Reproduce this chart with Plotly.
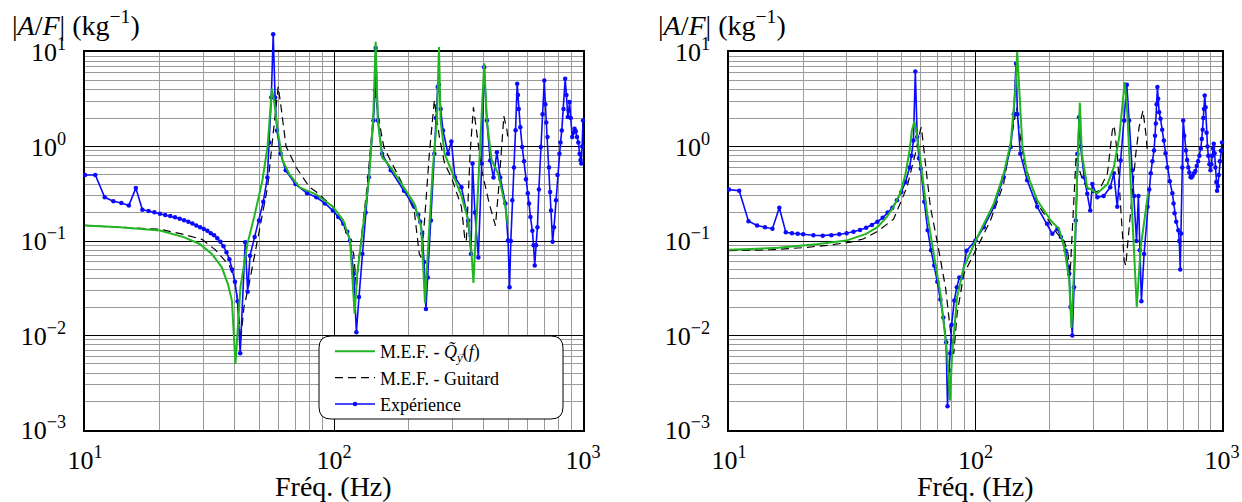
import plotly.graph_objects as go

# ---------------- data ----------------
# Left panel
LG_f = [10, 13.8, 20, 24.9, 28.9, 32.3, 35.4, 37.5, 38.9, 40.2, 42.1, 44.9, 47.8, 51.6, 54.1, 56.3, 57.5,
        59.4, 62.2, 66.2, 72.7, 85, 99, 109, 116, 120, 121, 124, 131.6, 138, 143.6, 147, 150, 156, 169, 191,
        210, 224, 229, 232, 238, 249, 259, 264, 268, 278, 296, 325, 346, 357, 363, 368, 386, 401, 411, 430,
        457, 488, 499]
LG_v = [0.146, 0.140, 0.129, 0.110, 0.093, 0.073, 0.053, 0.035, 0.0234, 0.005, 0.0325, 0.093, 0.18, 0.44,
        1.0, 4.1, 3.0, 1.48, 0.71, 0.51, 0.37, 0.31, 0.23, 0.165, 0.101, 0.0216, 0.017, 0.045, 0.165, 0.44,
        1.89, 12.8, 1.89, 0.77, 0.6, 0.37, 0.25, 0.14, 0.048, 0.022, 0.073, 0.56, 1.89, 11.3, 1.89, 0.84,
        0.56, 0.3, 0.165, 0.073, 0.036, 0.073, 0.84, 7.6, 1.89, 0.71, 0.51, 0.23, 0.15]

LB_f = [10, 20, 24.4, 29.5, 33.3, 38, 40.2, 41.2, 42.2, 43.5, 45.6, 50, 54.1, 56.6, 59.7, 61.3, 64.2, 70.5,
        79.8, 85, 99, 109, 120, 123, 125.6, 135.8, 142, 146.7, 150, 158.6, 185, 210, 220, 224, 231, 241.5,
        253, 265, 278, 296, 325, 336, 340, 352, 363, 374, 392, 420, 445, 460, 481, 495, 500]
LB_v = [0.146, 0.133, 0.119, 0.104, 0.081, 0.055, 0.037, 0.02, 0.0089, 0.02, 0.035, 0.119, 0.37, 1.16, 4.3,
        2.6, 1.0, 0.6, 0.37, 0.33, 0.23, 0.15, 0.073, 0.032, 0.062, 0.37, 1.6, 3.9, 2.2, 0.98, 0.44, 0.21,
        0.073, 0.067, 0.165, 0.84, 3.1, 1.26, 0.66, 0.474, 0.23, 0.1, 0.1, 0.84, 2.6, 1.37, 0.56, 0.25,
        0.145, 0.4, 2.1, 1.48, 1.2]

LE_f = [10, 11, 12, 13, 14, 15, 16, 17, 18, 19, 20, 21, 22, 23, 24, 25, 26, 27, 28, 29, 30, 31, 32, 33, 34,
        35, 36, 37, 38, 39, 40, 41, 42, 44, 45, 46, 48, 50, 52, 54, 55, 56, 57, 58, 59, 61, 64, 70, 78, 85,
        92, 99, 104, 109, 113, 116, 120, 123, 126, 130, 134, 138, 144, 146, 147, 150, 156, 169, 191, 210,
        218, 222, 226, 230, 234, 238, 245, 253, 257, 261, 264, 268, 274, 287, 296, 306, 325, 346, 355, 360,
        368, 380, 392, 401, 411, 424, 437, 451, 465, 488, 500, 507, 513, 520, 528, 536, 544, 548, 552, 560,
        570, 580, 590, 600, 607, 615, 626, 633, 640, 648, 656, 665, 677, 688, 699, 706, 712, 720, 730, 738,
        744, 755, 765, 779, 790, 804, 812, 822, 835, 848, 858, 869, 876, 883, 893, 905, 915, 925, 935, 946,
        958, 969, 977, 984, 992, 1000]
LE_v = [0.50, 0.50, 0.29, 0.264, 0.252, 0.238, 0.363, 0.214, 0.208, 0.201, 0.194, 0.189, 0.184, 0.178,
        0.172, 0.166, 0.160, 0.153, 0.146, 0.140, 0.134, 0.128, 0.121, 0.115, 0.107, 0.098, 0.088, 0.076,
        0.064, 0.050, 0.037, 0.023, 0.0065, 0.097, 0.029, 0.07, 0.11, 0.165, 0.26, 0.47, 1.1, 3.3, 15.4, 3.3,
        1.48, 0.84, 0.56, 0.40, 0.32, 0.29, 0.25, 0.21, 0.18, 0.152, 0.125, 0.101, 0.045, 0.0108, 0.0255,
        0.073, 0.2, 0.474, 1.89, 3.93, 11.0, 1.89, 0.84, 0.56, 0.34, 0.23, 0.19, 0.16, 0.12, 0.06, 0.0191,
        0.041, 0.165, 0.84, 2.0, 4.26, 4.5, 2.5, 1.48, 0.84, 1.13, 0.474, 0.37, 0.165, 0.073, 0.66, 0.2,
        0.067, 0.66, 6.9, 1.89, 0.71, 0.47, 0.87, 0.47, 0.25, 0.101, 0.0325, 0.1, 0.27, 0.6, 1.49, 4.6, 3.5,
        2.5, 1.6, 0.99, 0.7, 0.45, 0.32, 0.25, 0.18, 0.128, 0.09, 0.055, 0.09, 0.14, 0.35, 0.99, 2.2, 5.0,
        2.8, 1.8, 1.26, 0.6, 0.33, 0.21, 0.098, 0.14, 0.27, 0.5, 0.84, 1.1, 1.48, 2.5, 5.2, 3.5, 2.05, 2.4,
        2.96, 2.0, 1.26, 1.4, 1.54, 1.45, 1.26, 1.1, 0.84, 0.72, 0.66, 1.0, 1.89]

# Right panel
RG_f = [10, 15.9, 23.1, 29.9, 36, 40, 43.7, 46.5, 49.5, 51.9, 54, 55.2, 56.5, 58, 59.8, 63.7, 67.7, 72.1,
        76.7, 78.7, 80.4, 84.2, 89.7, 100, 118.8, 130, 138.8, 145.5, 147.6, 150, 155, 162, 178, 202, 218,
        229, 240, 245, 251, 259, 265, 270, 284, 312, 343, 364, 383, 395, 403, 411, 420, 433, 451, 468, 491,
        501]
RG_v = [0.0807, 0.0847, 0.093, 0.101, 0.119, 0.14, 0.18, 0.23, 0.32, 0.5, 0.9, 1.48, 1.85, 1.26, 0.71,
        0.194, 0.073, 0.0276, 0.0064, 0.00205, 0.0064, 0.0255, 0.053, 0.1, 0.25, 0.51, 1.07, 4.3, 10.0, 4.3,
        1.0, 0.51, 0.27, 0.165, 0.135, 0.087, 0.038, 0.012, 0.049, 0.56, 2.9, 0.84, 0.37, 0.32, 0.4, 0.6,
        1.26, 2.85, 4.8, 2.85, 0.84, 0.165, 0.02, 0.086, 0.23, 0.316]

RB_f = [10, 15, 20, 25, 31, 35, 39.8, 46.5, 52.7, 57, 59.7, 60.3, 62, 65.6, 69.8, 75.6, 79.1, 81.6, 84.2,
        89.7, 100, 115, 130, 141, 146.8, 150, 157, 178, 215, 229, 237, 242, 250, 256, 262, 272, 293, 317,
        343, 359, 365, 376, 388, 401, 407, 427, 447, 461, 478, 491, 499]
RB_v = [0.079, 0.081, 0.085, 0.09, 0.097, 0.105, 0.125, 0.17, 0.37, 0.84, 1.48, 1.6, 0.84, 0.23, 0.101,
        0.032, 0.0113, 0.0064, 0.017, 0.045, 0.079, 0.165, 0.4, 1.48, 2.6, 1.6, 0.71, 0.25, 0.119, 0.1,
        0.075, 0.045, 0.2, 0.8, 0.6, 0.44, 0.32, 0.34, 0.52, 1.48, 1.67, 0.84, 0.23, 0.062, 0.055, 0.23,
        0.84, 1.6, 2.4, 1.37, 0.84]

RE_f = [10, 11, 12, 13, 14, 15, 16, 17, 18, 19, 20, 22, 24, 26, 28, 30, 32, 34, 36, 38, 40, 42, 44, 46, 48,
        50, 52, 54, 55, 56, 57, 58, 59, 60, 62, 64, 66, 68, 70, 72, 74, 76, 77, 78, 79, 80, 82, 84, 86, 88,
        92, 100, 108, 119, 130, 139, 143, 146, 148, 152, 162, 178, 195, 205, 215, 222, 232, 240, 243, 247,
        251, 255, 259, 263, 267, 276, 284, 292, 298, 312, 331, 352, 364, 376, 388, 401, 411, 420, 433, 440,
        450, 458, 464, 471, 483, 499, 507, 514, 522, 530, 535, 539, 543, 547, 551, 556, 563, 572, 581, 590,
        600, 614, 629, 636, 642, 652, 665, 671, 677, 683, 690, 696, 703, 714, 722, 730, 737, 745, 752, 760,
        770, 780, 790, 800, 810, 820, 828, 835, 840, 845, 851, 858, 866, 873, 880, 889, 898, 905, 912, 920,
        926, 933, 940, 948, 955, 962, 970, 980, 990, 1000]
RE_v = [0.35, 0.34, 0.162, 0.146, 0.140, 0.135, 0.225, 0.124, 0.121, 0.119, 0.118, 0.115, 0.114, 0.115,
        0.118, 0.121, 0.125, 0.131, 0.138, 0.148, 0.16, 0.176, 0.2, 0.225, 0.27, 0.33, 0.42, 0.6, 0.8, 1.16,
        6.2, 1.26, 0.75, 0.58, 0.26, 0.13, 0.08, 0.055, 0.037, 0.024, 0.0155, 0.0085, 0.00178, 0.0043,
        0.0065, 0.013, 0.0234, 0.0325, 0.041, 0.041, 0.079, 0.101, 0.14, 0.23, 0.474, 0.986, 2.2, 7.5, 2.2,
        0.84, 0.44, 0.23, 0.152, 0.119, 0.135, 0.11, 0.079, 0.045, 0.02, 0.01, 0.0325, 0.165, 0.84, 2.04,
        1.0, 0.474, 0.316, 0.21, 0.4, 0.29, 0.3, 0.37, 0.52, 0.23, 0.71, 1.89, 4.5, 1.89, 0.56, 0.3, 0.1,
        0.3, 0.08, 0.023, 0.073, 0.23, 0.35, 0.52, 0.7, 0.91, 1.3, 1.75, 2.8, 4.26, 3.2, 2.3, 1.97, 1.5,
        1.16, 0.85, 0.6, 0.43, 0.32, 0.25, 0.197, 0.16, 0.13, 0.1, 0.05, 0.12, 0.6, 1.89, 1.3, 0.91, 0.72,
        0.6, 0.53, 0.476, 0.47, 0.49, 0.52, 0.55, 0.62, 0.7, 0.8, 0.95, 1.2, 1.5, 2.0, 2.5, 3.47, 2.6, 1.4,
        1.0, 0.8, 0.65, 0.56, 0.65, 0.8, 0.95, 1.07, 0.85, 0.6, 0.42, 0.34, 0.38, 0.5, 0.7, 0.9, 1.1]

X_TICKS = [10, 100, 1000]
X_TICKTEXT = ["10<sup>1</sup>", "10<sup>2</sup>", "10<sup>3</sup>"]
Y_TICKS = [1e-3, 1e-2, 1e-1, 1, 10]
Y_TICKTEXT = ["10<sup>−3</sup>", "10<sup>−2</sup>", "10<sup>−1</sup>", "10<sup>0</sup>", "10<sup>1</sup>"]
MINOR = [m * 10 ** k for k in range(-3, 3) for m in range(2, 10)]

LEGEND_NAMES = ["M.E.F. - <i>Q\u0303</i><sub><i>y</i></sub>(<i>f</i>)", "M.E.F. - Guitard", "Expérience"]
SUB_ARROW = "\u2192"
XTITLE = "Fréq. (Hz)"
YTITLE = "|<i>A</i>/<i>F</i>|\u00a0(kg<sup>−1</sup>)"

# ---------------- layout geometry ----------------
W, H = 1242, 502
FONT = "Liberation Serif"
GREEN, BLUE, BLACK = "#22b522", "#0a0aff", "#000000"


def fx(p):
    return p / W


def fy(p):
    return 1 - p / H


TOP, BOT = 52, 430
DEC = (BOT - TOP) / 4.0
EXT = 0.35
PANELS = [(85, 583), (729, 1222)]

fig = go.Figure()

for i, (x0, x1) in enumerate(PANELS):
    gx = "xaxis" if i == 0 else "xaxis2"
    gy = "yaxis" if i == 0 else "yaxis2"
    dx = "xaxis3" if i == 0 else "xaxis4"
    dy = "yaxis3" if i == 0 else "yaxis4"
    gx_ref = "x" if i == 0 else "x2"
    grid_common = dict(type="log", showline=True, mirror=True, linecolor="black", linewidth=1.6,
                       showgrid=True, gridcolor="black", gridwidth=1, ticks="", zeroline=False,
                       automargin=False, tickfont=dict(family=FONT, size=26, color="black"))
    fig.update_layout(**{
        gx: dict(grid_common, domain=[fx(x0), fx(x1)], range=[1, 3], tickmode="array",
                 tickvals=X_TICKS, ticktext=X_TICKTEXT, anchor="y" if i == 0 else "y2",
                 ticklabelstandoff=6,
                 minor=dict(tickmode="array", tickvals=MINOR, showgrid=True, gridcolor="#9a9a9a",
                            gridwidth=1, ticks="")),
        gy: dict(grid_common, domain=[fy(BOT), fy(TOP)], range=[-3, 1], tickmode="array",
                 tickvals=Y_TICKS, ticktext=Y_TICKTEXT, anchor=gx_ref, ticklabelstandoff=12,
                 minor=dict(tickmode="array", tickvals=MINOR, showgrid=True, gridcolor="#9a9a9a",
                            gridwidth=1, ticks="")),
        dx: dict(type="log", domain=[fx(x0), fx(x1)], range=[1, 3], visible=False, automargin=False,
                 anchor="y3" if i == 0 else "y4"),
        dy: dict(type="log", domain=[fy(BOT), fy(TOP - EXT * DEC)], range=[-3, 1 + EXT], visible=False,
                 automargin=False, anchor="x3" if i == 0 else "x4"),
    })
    # empty trace so the grid/frame subplot is drawn
    fig.add_trace(go.Scatter(x=[], y=[], xaxis=gx_ref, yaxis="y" if i == 0 else "y2",
                             showlegend=False, hoverinfo="skip"))

panel_data = [
    (LG_f, LG_v, LB_f, LB_v, LE_f, LE_v),
    (RG_f, RG_v, RB_f, RB_v, RE_f, RE_v),
]
for i, (gf, gv, bf, bv, ef, ev) in enumerate(panel_data):
    xa = "x3" if i == 0 else "x4"
    ya = "y3" if i == 0 else "y4"
    show = i == 0
    fig.add_trace(go.Scatter(x=bf, y=bv, mode="lines", name=LEGEND_NAMES[1], legendrank=2,
                             line=dict(color=BLACK, width=1.2, dash="8px,5px"),
                             xaxis=xa, yaxis=ya, showlegend=show))
    fig.add_trace(go.Scatter(x=ef, y=ev, mode="lines+markers", name=LEGEND_NAMES[2], legendrank=3,
                             line=dict(color=BLUE, width=1.6), marker=dict(color=BLUE, size=4.5),
                             xaxis=xa, yaxis=ya, showlegend=show, cliponaxis=False))
    fig.add_trace(go.Scatter(x=gf, y=gv, mode="lines", name=LEGEND_NAMES[0], legendrank=1,
                             line=dict(color=GREEN, width=2.0),
                             xaxis=xa, yaxis=ya, showlegend=show))

# rounded legend box
bx0, bx1, by0, by1, r = 319, 563, 336, 419, 12
rx, ry = r / W, r / H
X0, X1, Y0, Y1 = fx(bx0), fx(bx1), fy(by1), fy(by0)
path = (f"M {X0+rx},{Y0} L {X1-rx},{Y0} Q {X1},{Y0} {X1},{Y0+ry} L {X1},{Y1-ry} Q {X1},{Y1} {X1-rx},{Y1} "
        f"L {X0+rx},{Y1} Q {X0},{Y1} {X0},{Y1-ry} L {X0},{Y0+ry} Q {X0},{Y0} {X0+rx},{Y0} Z")
fig.add_shape(type="path", path=path, xref="paper", yref="paper", fillcolor="white",
              line=dict(color="black", width=1), layer="above")

annotations = []
for (x0, x1), ylab_x in zip(PANELS, [10, 656]):
    annotations.append(dict(text=XTITLE, x=fx((x0 + x1) / 2), y=fy(486), xref="paper", yref="paper",
                            showarrow=False, xanchor="center", yanchor="middle",
                            font=dict(family=FONT, size=28, color="black")))
    annotations.append(dict(text=YTITLE, x=fx(ylab_x), y=fy(24), xref="paper", yref="paper",
                            showarrow=False, xanchor="left", yanchor="middle",
                            font=dict(family=FONT, size=28, color="black")))
# small vector arrow over the subscript y of the legend entry
annotations.append(dict(text=SUB_ARROW, x=fx(461), y=fy(352), xref="paper", yref="paper",
                        showarrow=False, xanchor="center", yanchor="middle",
                        font=dict(family=FONT, size=10, color="black")))

fig.update_layout(
    template="none",
    width=W, height=H, margin=dict(l=0, r=0, t=0, b=0, autoexpand=False),
    paper_bgcolor="white", plot_bgcolor="rgba(0,0,0,0)",
    annotations=annotations,
    legend=dict(x=fx(330), y=fy(333), xanchor="left", yanchor="top", bgcolor="rgba(0,0,0,0)",
                borderwidth=0, itemwidth=40, font=dict(family=FONT, size=18, color="black"),
                tracegroupgap=0),
    showlegend=True,
)

fig.write_html("out.html", config={"displayModeBar": False},
               post_script="document.body.style.margin='0';document.body.style.overflow='hidden';")
